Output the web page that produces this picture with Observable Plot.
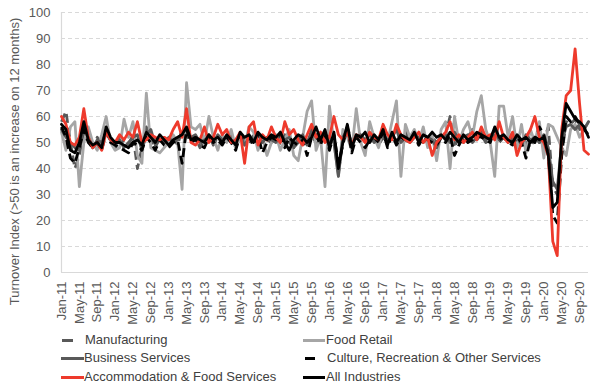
<!DOCTYPE html>
<html><head><meta charset="utf-8">
<script src="https://cdn.jsdelivr.net/npm/d3@7"></script>
<script src="https://cdn.jsdelivr.net/npm/@observablehq/plot@0.6"></script>
<style>
body{margin:0;background:#fff;font-family:"Liberation Sans",Arial,sans-serif;}
#wrap{position:relative;width:600px;height:392px;overflow:hidden;}
.leg{position:absolute;font-size:13px;color:#404040;white-space:nowrap;line-height:16px;height:16px;}
.leg svg{position:absolute;top:0;}
</style></head><body><div id="wrap"></div>
<script>
// Monthly series, Jan-11 .. Nov-20 (index 0..118)
const seriesNames = ["Manufacturing","Food Retail","Business Services","Culture, Recreation & Other Services","Accommodation & Food Services","All Industries"];

const manufacturing = [
58,62,50,40,45,55,50,48,52,49,55,50,
48,52,50,49,53,40,48,56,51,48,52,50,
50,52,49,55,53,50,52,48,51,53,49,52,
50,51,53,48,52,51,49,53,50,52,51,50,
52,49,53,50,48,52,51,50,54,49,52,51,
50,53,38,51,56,50,53,51,52,50,53,49,
52,50,53,51,52,55,50,52,49,53,51,52,
50,52,53,60,48,53,50,52,55,51,53,50,
51,53,50,52,54,51,49,52,50,48,52,50,
51,56,33,30,45,58,57,59,55,56,57];

const foodRetail = [
54,47,56,58,33,50,56,50,47,53,60,50,
47,48,59,52,58,45,42,69,48,47,46,48,
50,53,50,32,73,56,55,57,50,60,52,47,
53,50,55,48,52,49,56,54,47,52,45,50,
53,47,51,55,45,43,52,62,66,47,52,33,
64,50,37,55,52,47,63,50,45,58,52,48,
55,50,58,66,37,57,52,55,50,56,48,53,
43,55,58,40,60,50,55,58,52,62,68,55,
50,37,64,64,52,60,48,57,46,55,50,58,
44,57,56,52,48,45,55,57,52,55,58];

const businessServices = [
55,52,50,48,47,55,52,48,51,50,54,51,
49,51,48,50,52,53,47,53,55,49,51,50,
52,50,51,54,55,52,53,50,51,52,50,53,
51,52,50,51,53,49,52,51,53,50,52,51,
50,53,51,52,48,50,53,49,55,52,50,53,
52,50,37,52,55,49,52,53,51,53,50,52,
53,51,52,55,50,52,51,53,52,50,52,51,
48,52,53,50,54,51,52,53,50,52,54,51,
52,55,51,53,50,51,52,49,53,51,52,50,
53,48,35,32,50,56,57,55,57,55,58];

const culture = [
56,52,44,42,48,55,50,48,50,47,54,50,
49,48,47,46,50,49,47,52,50,47,51,49,
48,50,51,42,55,50,51,49,48,52,50,51,
49,52,50,47,53,51,52,49,53,46,50,52,
51,53,48,52,50,49,51,45,52,53,49,54,
47,53,42,49,56,46,52,50,48,51,52,50,
54,48,53,49,52,51,50,53,49,52,51,50,
49,52,50,53,45,49,52,50,51,53,52,51,
50,55,51,52,50,49,52,50,44,51,50,56,
53,45,22,19,45,60,58,60,57,55,53];

const accommodation = [
60,57,50,49,52,63,52,48,50,47,54,51,
50,53,51,54,52,58,50,51,53,52,51,52,
51,55,58,52,63,50,49,51,56,50,52,57,
53,55,50,51,54,42,56,58,49,53,51,56,
52,50,58,53,55,51,49,53,57,52,54,50,
52,60,53,51,54,49,53,52,50,54,52,51,
57,53,51,57,53,51,50,52,54,50,52,45,
50,52,54,58,51,53,50,52,54,51,56,52,
53,51,58,52,50,54,45,50,52,55,60,52,
50,45,12,6.5,55,68,70,86,65,47,45.5];

const allIndustries = [
57,55,47,46,50,58,51,49,50,48,56,52,
50,50,49,48,50,51,49,54,52,50,53,51,
49,51,52,53,56,51,52,51,50,53,51,52,
50,53,51,49,54,52,53,50,54,52,51,53,
52,54,50,47,51,53,52,50,52,56,51,55,
48,54,40,50,57,48,53,52,54,50,53,51,
55,49,54,50,53,52,51,54,50,53,52,54,
52,53,51,54,52,50,53,51,52,54,53,52,
51,56,52,53,51,50,53,51,52,50,52,51,
52,45,25,27,52,65,62,59,58,56,52];

const tickLabels = ["Jan-11","May-11","Sep-11","Jan-12","May-12","Sep-12","Jan-13","May-13","Sep-13",
"Jan-14","May-14","Sep-14","Jan-15","May-15","Sep-15","Jan-16","May-16","Sep-16","Jan-17","May-17","Sep-17",
"Jan-18","May-18","Sep-18","Jan-19","May-19","Sep-19","Jan-20","May-20","Sep-20"];
const yTicks = [0,10,20,30,40,50,60,70,80,90,100];

const styles = [
  {name: seriesNames[0], values: manufacturing, stroke: "#595959", dash: "9,5"},
  {name: seriesNames[1], values: foodRetail, stroke: "#a6a6a6", dash: null},
  {name: seriesNames[2], values: businessServices, stroke: "#595959", dash: null},
  {name: seriesNames[3], values: culture, stroke: "#000000", dash: "9,5"},
  {name: seriesNames[4], values: accommodation, stroke: "#ee3a2c", dash: null},
  {name: seriesNames[5], values: allIndustries, stroke: "#000000", dash: null}
];

const tickIndex = tickLabels.map((d, k) => k * 4);
const labelOf = new Map(tickIndex.map((t, k) => [t, tickLabels[k]]));

const marks = [
  Plot.gridY(yTicks.filter(d => d > 0), {stroke: "#d9d9d9", strokeOpacity: 1, strokeDasharray: "4,3"}),
  Plot.ruleY([0], {stroke: "#d9d9d9", strokeWidth: 1.2}),
  Plot.ruleX([0], {y1: 0, y2: 100, stroke: "#d9d9d9", strokeWidth: 1.2}),
  Plot.axisY({ticks: yTicks, tickSize: 0, tickPadding: 11, fontSize: 13, color: "#595959", label: null}),
  Plot.axisX({ticks: tickIndex, tickFormat: d => labelOf.get(d), tickRotate: -90, tickSize: 0, tickPadding: 9, fontSize: 13, color: "#595959", label: null}),
  Plot.text(["Turnover Index (>50 is an increase on 12 months)"], {frameAnchor: "left", textAnchor: "middle", rotate: -90, dx: -47, dy: 19, fontSize: 13, fill: "#595959"})
];
for (const s of styles) {
  marks.push(Plot.line(s.values, {
    x: (d, i) => i, y: d => d,
    stroke: s.stroke, strokeWidth: 2.8, strokeLinejoin: "round",
    strokeLinecap: s.dash ? "butt" : "round",
    strokeDasharray: s.dash || undefined
  }));
}

const chart = Plot.plot({
  width: 600, height: 330,
  marginLeft: 61, marginRight: 12, marginTop: 12, marginBottom: 58,
  x: {domain: [0, 118], axis: null},
  y: {domain: [0, 100], axis: null},
  style: {fontFamily: '"Liberation Sans", Arial, sans-serif', background: "#fff"},
  marks
});
const wrap = document.getElementById("wrap");
wrap.appendChild(chart);

const legendItems = [
  {k: 0, x: 61, y: 332, sw: [1, 12], tx: 85},
  {k: 1, x: 302, y: 332, sw: [1, 23], tx: 326},
  {k: 2, x: 61, y: 350, sw: [0, 23], tx: 84},
  {k: 3, x: 302, y: 350, sw: [3, 13], tx: 327},
  {k: 4, x: 61, y: 369, sw: [0, 23], tx: 84},
  {k: 5, x: 302, y: 369, sw: [1, 23], tx: 326}
];
for (const it of legendItems) {
  const s = styles[it.k];
  const d = document.createElement("div");
  d.className = "leg";
  d.style.left = it.x + "px"; d.style.top = it.y + "px";
  d.style.paddingLeft = (it.tx - it.x) + "px";
  d.innerHTML = `<svg width="${it.tx - it.x}" height="16" style="left:0"><line x1="${it.sw[0]}" x2="${it.sw[1]}" y1="8.5" y2="8.5" stroke="${s.stroke}" stroke-width="3"/></svg>`;
  d.appendChild(document.createTextNode(s.name));
  wrap.appendChild(d);
}
</script></body></html>
